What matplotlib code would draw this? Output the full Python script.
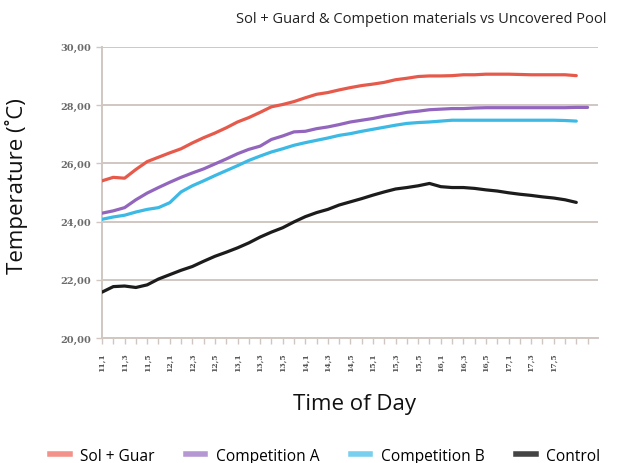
import numpy as np
import matplotlib
matplotlib.use("Agg")
import matplotlib.pyplot as plt
from matplotlib.lines import Line2D

# tick labels (every second category)
TIME_LABELS = ["11,1", "11,3", "11,5", "12,1", "12,3", "12,5", "13,1", "13,3",
               "13,5", "14,1", "14,3", "14,5", "15,1", "15,3", "15,5", "16,1",
               "16,3", "16,5", "17,1", "17,3", "17,5"]
N_CATEGORIES = 44

sol_guard = [25.40, 25.52, 25.49, 25.79, 26.06, 26.21, 26.36, 26.50, 26.70, 26.88,
             27.04, 27.22, 27.42, 27.57, 27.75, 27.94, 28.02, 28.12, 28.25, 28.37,
             28.43, 28.52, 28.60, 28.67, 28.72, 28.78, 28.87, 28.92, 28.98, 29.00,
             29.00, 29.01, 29.04, 29.04, 29.06, 29.06, 29.06, 29.05, 29.04, 29.04,
             29.04, 29.04, 29.01]

competition_a = [24.29, 24.37, 24.48, 24.75, 24.98, 25.17, 25.35, 25.52, 25.67, 25.81,
                 25.98, 26.15, 26.33, 26.48, 26.59, 26.82, 26.94, 27.08, 27.10, 27.19,
                 27.25, 27.33, 27.42, 27.48, 27.54, 27.62, 27.68, 27.75, 27.79, 27.84,
                 27.86, 27.88, 27.88, 27.90, 27.91, 27.91, 27.91, 27.91, 27.91, 27.91,
                 27.91, 27.91, 27.92, 27.92]

competition_b = [24.08, 24.16, 24.22, 24.33, 24.42, 24.48, 24.65, 25.02, 25.23, 25.40,
                 25.58, 25.75, 25.92, 26.10, 26.25, 26.39, 26.50, 26.62, 26.71, 26.79,
                 26.87, 26.96, 27.02, 27.10, 27.17, 27.24, 27.31, 27.37, 27.40, 27.42,
                 27.45, 27.48, 27.48, 27.48, 27.48, 27.48, 27.48, 27.48, 27.48, 27.48,
                 27.48, 27.47, 27.45]

control = [21.58, 21.77, 21.79, 21.74, 21.83, 22.03, 22.18, 22.33, 22.46, 22.64,
           22.81, 22.95, 23.10, 23.27, 23.47, 23.64, 23.79, 23.99, 24.17, 24.31,
           24.42, 24.57, 24.68, 24.79, 24.91, 25.02, 25.12, 25.17, 25.23, 25.31,
           25.20, 25.17, 25.17, 25.14, 25.09, 25.05, 24.99, 24.94, 24.90, 24.85,
           24.81, 24.75, 24.66]

SERIES = [
    ("Sol + Guar", sol_guard, "#e65a4c", "#f2928a"),
    ("Competition A", competition_a, "#9366bd", "#b597d4"),
    ("Competition B", competition_b, "#3cb9e4", "#78d0ee"),
    ("Control", control, "#1c1c1c", "#444444"),
]

GRID_COLOR = "#d0c6c2"

fig = plt.figure(figsize=(6.22, 4.64), dpi=100)
ax = fig.add_axes([0.164, 0.269, 0.797, 0.628])

for name, vals, color, _ in SERIES:
    ax.plot(np.arange(len(vals)), vals, color=color, linewidth=2.3,
            solid_capstyle="round", zorder=3)

ax.set_xlim(0, 43.9)
ax.set_ylim(20, 30)
ax.set_yticks(np.arange(20, 31, 2))
ax.set_yticklabels([f"{v},00" for v in range(20, 31, 2)],
                   fontfamily="DejaVu Serif", fontsize=7, color="#6a6a6a",
                   fontweight="bold")
ax.yaxis.grid(True, color=GRID_COLOR, linewidth=1.4)
ax.set_axisbelow(True)

xt = np.arange(N_CATEGORIES)
xl = [""] * N_CATEGORIES
for i, lab in enumerate(TIME_LABELS):
    xl[2 * i] = lab
ax.set_xticks(xt)
ax.set_xticklabels(xl, rotation=90, fontfamily="DejaVu Serif", fontsize=5.5,
                   color="#555555", fontweight="bold")

for s in ["top", "right"]:
    ax.spines[s].set_visible(False)
for s in ["left", "bottom"]:
    ax.spines[s].set_color(GRID_COLOR)
    ax.spines[s].set_linewidth(1.4)
ax.tick_params(axis="both", colors=GRID_COLOR, length=4, width=1.0)
ax.tick_params(axis="x", pad=6, labelcolor="#555555")
ax.tick_params(axis="y", pad=4, labelcolor="#6a6a6a")

fig.text(0.677, 0.958, "Sol + Guard & Competion materials vs Uncovered Pool",
         ha="center", va="center", fontfamily="Open Sans", fontsize=10.5,
         color="#222222")
fig.text(0.027, 0.60, "Temperature (˚C)", rotation=90, ha="center", va="center",
         fontfamily="Open Sans", fontsize=16, color="#111111")
fig.text(0.570, 0.128, "Time of Day", ha="center", va="center",
         fontfamily="Open Sans", fontsize=16, color="#111111")

handles = [Line2D([], [], color=lc, linewidth=4) for _, _, _, lc in SERIES]
labels = [name for name, _, _, _ in SERIES]
fig.legend(handles, labels, loc="center left", bbox_to_anchor=(0.058, 0.016),
           ncol=4, frameon=False, handlelength=1.25, handletextpad=0.7,
           columnspacing=2.0, prop={"family": "Open Sans", "size": 11.2})

fig.savefig("out.png", dpi=100, facecolor="white")
